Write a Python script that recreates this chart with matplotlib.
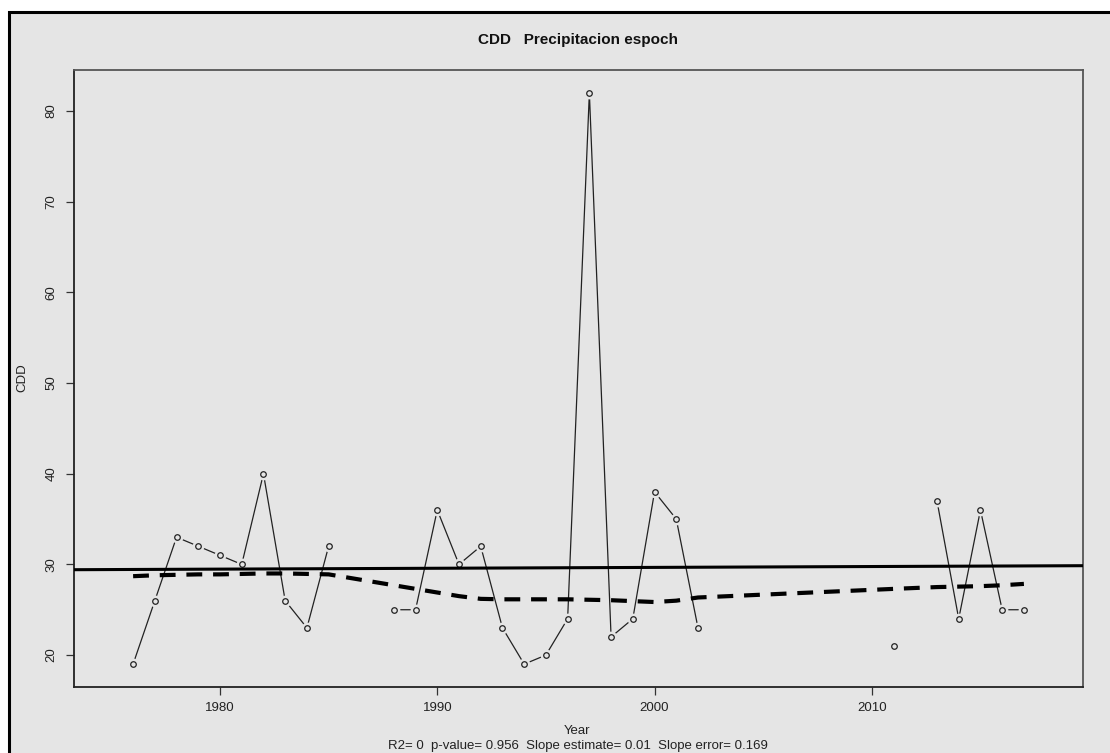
import numpy as np
import matplotlib
matplotlib.use("Agg")
import matplotlib.pyplot as plt
from matplotlib.patches import Rectangle

plt.rcParams['font.family'] = ['Liberation Sans', 'DejaVu Sans']

BG = '#e5e5e5'

# Data (NaN = missing year)
years = np.arange(1976, 2018)
cdd = np.array([19, 26, 33, 32, 31, 30, 40, 26, 23, 32,       # 1976-1985
                np.nan, np.nan,                                # 1986-1987
                25, 25, 36, 30, 32, 23, 19, 20, 24, 82,        # 1988-1997
                22, 24, 38, 35, 23,                            # 1998-2002
                np.nan, np.nan, np.nan, np.nan, np.nan,        # 2003-2007
                np.nan, np.nan, np.nan,                        # 2008-2010
                21, np.nan, 37, 24, 36, 25, 25])               # 2011-2017

# lowess curve (at years with data)
smooth_years = np.array([1976, 1977, 1978, 1979, 1980, 1981, 1982, 1983, 1984, 1985,
                         1988, 1989, 1990, 1991, 1992, 1993, 1994, 1995, 1996, 1997,
                         1998, 1999, 2000, 2001, 2002, 2011, 2013, 2014, 2015, 2016, 2017])
smooth_vals = np.array([28.7, 28.8, 28.85, 28.9, 28.9, 28.95, 29.0, 29.0, 28.95, 28.9,
                        27.7, 27.3, 26.9, 26.5, 26.2, 26.15, 26.15, 26.15, 26.15, 26.1,
                        26.05, 25.95, 25.85, 26.0, 26.35, 27.3, 27.5, 27.55, 27.6, 27.7, 27.85])

year_range = (1975, 2018)
xticks = [1980, 1990, 2000, 2010]
yticks = [20, 30, 40, 50, 60, 70, 80]

title = 'CDD   Precipitacion espoch'
stats = 'R2= 0  p-value= 0.956  Slope estimate= 0.01  Slope error= 0.169'

W, H = 1110, 753
fig = plt.figure(figsize=(W / 100, H / 100), dpi=100)
fig.patch.set_facecolor('white')
# grey panel with black frame (runs off the right and bottom edge)
fig.patches.append(Rectangle((9 / W, -0.05), 1.1, (H - 12) / H + 0.05,
                             transform=fig.transFigure, facecolor=BG,
                             edgecolor='black', linewidth=2.2, zorder=-5))

ax = fig.add_axes([74 / W, (H - 687) / H, (1083 - 74) / W, (687 - 70) / H])
ax.set_facecolor(BG)

# observed series, R type="b" look: line, gaps around points, open circles
ax.plot(years, cdd, color='#222222', lw=0.9, zorder=2)
ax.plot(years, cdd, ls='none', marker='o', ms=8.5, mfc=BG, mec='none', zorder=3)
ax.plot(years, cdd, ls='none', marker='o', ms=4, mfc='none', mec='#222222',
        mew=0.9, zorder=4)

# linear trend
ok = ~np.isnan(cdd)
slope, intercept = np.polyfit(years[ok], cdd[ok], 1)
ax.axline((years[ok].mean(), intercept + slope * years[ok].mean()), slope=slope,
          color='black', lw=2.2, zorder=5)

# lowess
ax.plot(smooth_years, smooth_vals, color='black', lw=3.0, dashes=(3.8, 2.6), zorder=5)

pad = 0.04 * (year_range[1] - year_range[0])
ax.set_xlim(year_range[0] - pad, year_range[1] + pad)
vmin, vmax = np.nanmin(cdd), np.nanmax(cdd)
ax.set_ylim(vmin - 0.04 * (vmax - vmin), vmax + 0.04 * (vmax - vmin))

ax.set_xticks(xticks)
ax.set_yticks(yticks)
ax.tick_params(axis='both', length=5.8, width=0.9, color='#333333',
               labelsize=9.5, labelcolor='#222222')
ax.tick_params(axis='x', pad=5)
ax.tick_params(axis='y', pad=6)
for lab in ax.get_yticklabels():
    lab.set_rotation(90)
    lab.set_va('center')
for side, sp in ax.spines.items():
    sp.set_color('#222222' if side in ('left', 'bottom') else '#555555')
    sp.set_linewidth(1.3)

fig.text(578.5 / W, (H - 40) / H, title, ha='center', va='center',
         fontsize=11, fontweight='bold', color='#111111')
fig.text(577 / W, (H - 731) / H, 'Year', ha='center', va='center',
         fontsize=9.5, color='#222222')
fig.text(578 / W, 1 / H, stats, ha='center', va='bottom',
         fontsize=9.5, color='#222222')
fig.text(22 / W, (H - 378) / H, 'CDD', ha='center', va='center', rotation=90,
         fontsize=9.5, color='#222222')

fig.savefig('out.png', dpi=100)
